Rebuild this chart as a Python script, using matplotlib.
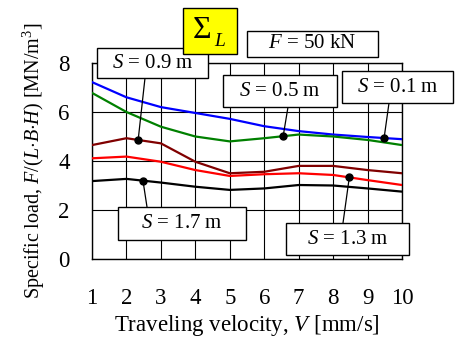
import numpy as np
import matplotlib
matplotlib.use('Agg')
import matplotlib.pyplot as plt
from matplotlib.patches import Rectangle

plt.rcParams['font.family'] = ['Liberation Serif', 'DejaVu Serif']
plt.rcParams['mathtext.fontset'] = 'custom'
plt.rcParams['mathtext.rm'] = 'Liberation Serif'
plt.rcParams['mathtext.it'] = 'Liberation Serif:italic'

# data
V = [1, 2, 3, 4, 5, 6, 7, 8, 9, 10]
s01 = [7.22, 6.6, 6.2, 5.96, 5.72, 5.42, 5.22, 5.08, 4.98, 4.89]   # blue
s05 = [6.78, 6.0, 5.4, 5.0, 4.8, 4.93, 5.08, 5.0, 4.86, 4.65]      # green
s09 = [4.65, 4.93, 4.72, 3.97, 3.5, 3.56, 3.8, 3.8, 3.63, 3.5]      # dark red
s13 = [4.11, 4.18, 3.97, 3.63, 3.39, 3.46, 3.5, 3.43, 3.22, 3.02]   # red
s17 = [3.18, 3.27, 3.12, 2.95, 2.82, 2.88, 3.02, 3.0, 2.88, 2.75]   # black

W, H = 455, 337
fig = plt.figure(figsize=(W / 100, H / 100), dpi=100)
ax = fig.add_axes([92 / W, (H - 259) / H, 310 / W, 196 / H])

series = [(s01, 'blue'), (s05, 'green'), (s09, '#800000'), (s13, 'red'), (s17, 'black')]
for ys, c in series:
    ax.plot(V, ys, color=c, lw=1.6, zorder=3)

ax.set_xlim(1, 10)
ax.set_ylim(0, 8)
ax.set_xticks(range(1, 11))
ax.set_yticks([0, 2, 4, 6, 8])
ax.grid(True, color='black', lw=0.8)
ax.tick_params(length=0, labelsize=16.5)
ax.tick_params(axis='x', pad=21)
ax.tick_params(axis='y', pad=16)
for sp in ax.spines.values():
    sp.set_linewidth(1)
ax.set_xlabel(r'Traveling velocity, $V$ [mm/s]', fontsize=16.5, labelpad=3)
ax.set_ylabel(r'Specific load, $F/(L{\cdot}B{\cdot}H)$ [MN/m$^3$]', fontsize=14.5, labelpad=8)


def pix(x, y):
    # top-left pixel coords -> figure fraction
    return x / W, (H - y) / H


def box(x0, y0, x1, y1, face='white'):
    fx0, fy1 = pix(x0, y0)
    fx1, fy0 = pix(x1, y1)
    fig.patches.append(Rectangle((fx0, fy0), fx1 - fx0, fy1 - fy0, transform=fig.transFigure,
                                 facecolor=face, edgecolor='black', lw=1, zorder=5))


# labels: (text, series, V of dot, box, line end)
labels = [
    ('0.9', s09, 2.34, (97, 48, 208, 78), (145, 78)),
    ('0.5', s05, 6.55, (223, 75, 337, 107), (288, 107)),
    ('0.1', s01, 9.48, (342, 71, 453, 103), (389, 103)),
    ('1.7', s17, 2.48, (118, 207, 246, 240), (147, 207)),
    ('1.3', s13, 8.47, (286, 223, 409, 255), (343, 223)),
]
for txt, ys, vx, b, end in labels:
    vy = np.interp(vx, V, ys)
    ax.plot([vx], [vy], 'o', color='black', ms=5, zorder=6)
    ax.annotate('', xy=(vx, vy), xytext=pix(*end), textcoords='figure fraction',
                arrowprops=dict(arrowstyle='-', color='black', lw=0.9, shrinkA=0, shrinkB=0),
                zorder=4, annotation_clip=False)
    box(*b)
    cx, cy = pix((b[0] + b[2]) / 2, (b[1] + b[3]) / 2)
    fig.text(cx, cy, r'$S$ = ' + txt + ' m', ha='center', va='center', fontsize=15, zorder=7)

box(183, 8, 237, 54, face='yellow')
fig.text(*pix(202, 30), 'Σ', ha='center', va='center', fontsize=23, zorder=7)
fig.text(*pix(220, 41), 'L', ha='center', va='center', fontsize=14, style='italic', zorder=7)

box(247, 31, 378, 57)
fx, fy = pix(312, 44)
fig.text(fx, fy, r'$F$ = 50 kN', ha='center', va='center', fontsize=15, zorder=7)

fig.savefig('out.png', dpi=100)
